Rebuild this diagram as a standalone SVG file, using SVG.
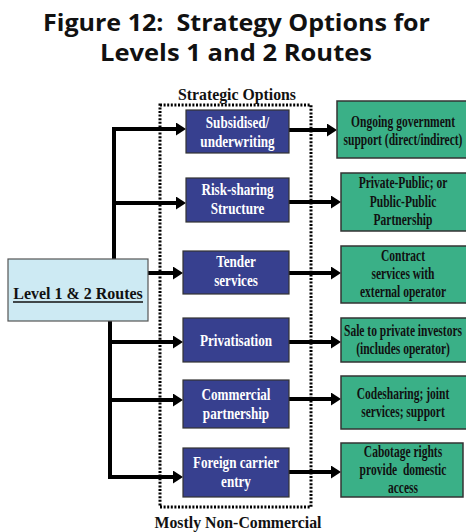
<svg xmlns="http://www.w3.org/2000/svg" width="466" height="532" viewBox="0 0 466 532">
  <style>
    .title { font-family: "Open Sans", "Noto Sans", sans-serif; font-weight: 700; font-size: 24px; fill: #111; text-anchor: middle; }
    .serif { font-family: "Liberation Serif", "Times New Roman", serif; font-weight: 700; text-anchor: middle; }
    .hdr { font-size: 17px; fill: #111; }
    .opt rect { fill: #37408f; stroke: #333; stroke-width: 1.2; }
    .opt text { font-size: 16px; fill: #ffffff; }
    .res rect { fill: #3ab087; stroke: #333; stroke-width: 1.5; }
    .res text { font-size: 16px; fill: #111; }
    .conn path { fill: none; stroke: #000; stroke-width: 4; }
    .frame { fill: none; stroke: #000; stroke-width: 3; stroke-dasharray: 2 1.6; }
  </style>
  <defs>
    <marker id="arrow" markerUnits="userSpaceOnUse" viewBox="0 -6.5 10 13" refX="1" refY="0" markerWidth="10" markerHeight="13" orient="auto">
      <path d="M0,-6.5 L10,0 L0,6.5 z" fill="#000"/>
    </marker>
  </defs>

  <rect width="466" height="532" fill="#ffffff"/>

  <!-- heading -->
  <text class="title" x="236.5" y="31" textLength="387" lengthAdjust="spacingAndGlyphs" xml:space="preserve">Figure 12:  Strategy Options for</text>
  <text class="title" x="236" y="61" textLength="272" lengthAdjust="spacingAndGlyphs">Levels 1 and 2 Routes</text>

  <!-- dotted frame around the strategic options -->
  <rect class="frame" x="160" y="105" width="151" height="402"/>
  <g transform="translate(237 100) scale(0.93 1)">
    <text class="serif hdr" x="0" y="0">Strategic Options</text>
  </g>
  <g transform="translate(238 528) scale(0.93 1)">
    <text class="serif hdr" x="0" y="0">Mostly Non-Commercial</text>
  </g>

  <!-- connectors -->
  <g id="connectors" class="conn">
    <path d="M114,259 V129 H177" marker-end="url(#arrow)"/>
    <path d="M114,203 H177" marker-end="url(#arrow)"/>
    <path d="M148,273 H174" marker-end="url(#arrow)"/>
    <path d="M110,321 V477 H174" marker-end="url(#arrow)"/>
    <path d="M110,342 H174" marker-end="url(#arrow)"/>
    <path d="M110,400 H174" marker-end="url(#arrow)"/>
    <path d="M289,130 H328" marker-end="url(#arrow)"/>
    <path d="M289,202 H332" marker-end="url(#arrow)"/>
    <path d="M289,273 H332" marker-end="url(#arrow)"/>
    <path d="M289,342 H332" marker-end="url(#arrow)"/>
    <path d="M289,399 H332" marker-end="url(#arrow)"/>
    <path d="M289,472 H332" marker-end="url(#arrow)"/>
  </g>

  <!-- source node -->
  <g id="level-routes">
    <rect x="8" y="259" width="140" height="62" fill="#cdeaf3" stroke="#555" stroke-width="1.2"/>
    <g transform="translate(78 299) scale(0.94 1)">
      <text class="serif hdr" x="0" y="0">Level 1 &amp; 2 Routes</text>
    </g>
    <line x1="13" y1="302" x2="143" y2="302" stroke="#111" stroke-width="1.6"/>
  </g>

  <!-- strategic options -->
  <g id="opt-subsidised" class="opt">
    <rect x="186" y="110" width="103" height="43"/>
    <g transform="translate(237.5 0) scale(0.82 1)" class="serif">
      <text x="0" y="128">Subsidised/</text>
      <text x="0" y="147">underwriting</text>
    </g>
  </g>
  <g id="opt-risk" class="opt">
    <rect x="186" y="178" width="103" height="44"/>
    <g transform="translate(237.5 0) scale(0.82 1)" class="serif">
      <text x="0" y="195">Risk-sharing</text>
      <text x="0" y="214">Structure</text>
    </g>
  </g>
  <g id="opt-tender" class="opt">
    <rect x="183" y="251" width="106" height="43"/>
    <g transform="translate(236 0) scale(0.82 1)" class="serif">
      <text x="0" y="267">Tender</text>
      <text x="0" y="286">services</text>
    </g>
  </g>
  <g id="opt-privatisation" class="opt">
    <rect x="183" y="318" width="106" height="44"/>
    <g transform="translate(236 0) scale(0.82 1)" class="serif">
      <text x="0" y="346">Privatisation</text>
    </g>
  </g>
  <g id="opt-commercial" class="opt">
    <rect x="183" y="380" width="106" height="48"/>
    <g transform="translate(236 0) scale(0.82 1)" class="serif">
      <text x="0" y="400">Commercial</text>
      <text x="0" y="419">partnership</text>
    </g>
  </g>
  <g id="opt-foreign" class="opt">
    <rect x="183" y="448" width="106" height="49"/>
    <g transform="translate(236 0) scale(0.82 1)" class="serif">
      <text x="0" y="468">Foreign carrier</text>
      <text x="0" y="487">entry</text>
    </g>
  </g>

  <!-- outcomes -->
  <g id="res-government" class="res">
    <rect x="337" y="101" width="130" height="57"/>
    <g transform="translate(403 0) scale(0.72 1)" class="serif">
      <text x="0" y="127">Ongoing government</text>
      <text x="0" y="145">support (direct/indirect)</text>
    </g>
  </g>
  <g id="res-partnership" class="res">
    <rect x="341" y="173" width="126" height="58"/>
    <g transform="translate(403 0) scale(0.72 1)" class="serif">
      <text x="0" y="188">Private-Public; or</text>
      <text x="0" y="207">Public-Public</text>
      <text x="0" y="225">Partnership</text>
    </g>
  </g>
  <g id="res-contract" class="res">
    <rect x="341" y="246" width="126" height="57"/>
    <g transform="translate(403 0) scale(0.72 1)" class="serif">
      <text x="0" y="261">Contract</text>
      <text x="0" y="279">services with</text>
      <text x="0" y="297">external operator</text>
    </g>
  </g>
  <g id="res-sale" class="res">
    <rect x="341" y="318" width="126" height="44"/>
    <g transform="translate(403 0) scale(0.72 1)" class="serif">
      <text x="0" y="336">Sale to private investors</text>
      <text x="0" y="354">(includes operator)</text>
    </g>
  </g>
  <g id="res-codesharing" class="res">
    <rect x="341" y="376" width="126" height="53"/>
    <g transform="translate(403 0) scale(0.72 1)" class="serif">
      <text x="0" y="399">Codesharing; joint</text>
      <text x="0" y="417">services; support</text>
    </g>
  </g>
  <g id="res-cabotage" class="res">
    <rect x="341" y="443" width="122" height="54"/>
    <g transform="translate(403 0) scale(0.72 1)" class="serif">
      <text x="0" y="457">Cabotage rights</text>
      <text x="0" y="475" xml:space="preserve">provide  domestic</text>
      <text x="0" y="493">access</text>
    </g>
  </g>
</svg>
